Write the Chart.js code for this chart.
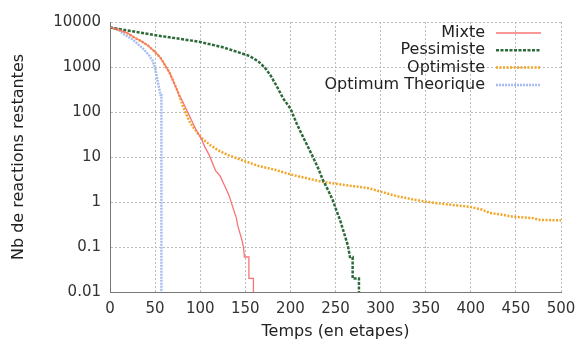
<!DOCTYPE html>
<html lang="fr">
<head>
<meta charset="UTF-8">
<title>Nb de reactions restantes</title>
<script src="https://cdn.jsdelivr.net/npm/chart.js"></script>
<style>
  body { margin: 0; background: #fff; overflow: hidden; }
  .wrap { width: 580px; height: 343px; }
</style>
</head>
<body>
<div class="wrap"><canvas id="chart"></canvas></div>
<script>
// 0 can't sit on a log axis: like gnuplot, the curve just falls off the bottom
const ZERO = 1e-4;

// values: [temps, nb de reactions restantes]
const mixte = [[0,7600],[10,6800],[20,5600],[28,4400],[35,3700],[42,3000],[50,2150],[56,1600],[61,1100],[66,750],[72,400],[76,250],[80,180],[85,110],[90,68],[95,42],[101,26],[105,17],[110,11],[117,5],[122,3.8],[128,2.1],[132,1.4],[136,0.78],[140,0.45],[142,0.28],[146,0.15],[148,0.1],[149,0.06],[154,0.06],[154,0.02],[159,0.02],[159,ZERO]];
const pessimiste = [[0,7600],[25,6200],[50,5100],[75,4300],[100,3600],[125,2750],[140,2200],[155,1750],[165,1300],[172,950],[178,650],[185,370],[192,200],[200,120],[207,55],[214,28],[220,16],[225,10],[231,5.5],[236,3.1],[242,1.8],[247,1.1],[251,0.65],[255,0.4],[259,0.22],[263,0.12],[264,0.1],[266,0.06],[269,0.06],[269,0.02],[276,0.02],[276,ZERO]];
const optimiste = [[0,7600],[10,6700],[20,5500],[28,4400],[35,3700],[42,3000],[50,2150],[56,1600],[61,1100],[66,750],[72,400],[76,260],[81,130],[85,85],[89,57],[97,34],[102,26],[111,18.5],[120,14],[131,11],[140,9.5],[150,8],[165,6.3],[183,5.2],[200,4.1],[220,3.3],[236,2.8],[260,2.4],[288,2.0],[300,1.7],[318,1.35],[335,1.15],[352,1.0],[375,0.88],[399,0.78],[412,0.68],[421,0.57],[435,0.52],[447,0.47],[460,0.45],[468,0.44],[477,0.4],[500,0.39]];
const optimum = [[0,7600],[10,6500],[17,5100],[25,4100],[32,3100],[38,2400],[43,1850],[47,1400],[50,950],[53,470],[55,300],[56,240],[57,240],[57,ZERO]];

const seriesNames = ['Mixte', 'Pessimiste', 'Optimiste', 'Optimum Theorique'];
const xTicks = [0, 50, 100, 150, 200, 250, 300, 350, 400, 450, 500];
const yTicks = [0.01, 0.1, 1, 10, 100, 1000, 10000];

const TICK_FONT = { family: 'DejaVu Sans', size: 15 };
const TITLE_FONT = { family: 'DejaVu Sans', size: 16 };

function toPoints(arr) { return arr.map(p => ({ x: p[0], y: p[1] })); }

// gnuplot style legend: right aligned text, line sample on the right
const keyPlugin = {
  id: 'key',
  afterDraw(chart) {
    const ctx = chart.ctx;
    const area = chart.chartArea;
    ctx.save();
    ctx.font = '16px "DejaVu Sans"';
    ctx.textAlign = 'right';
    ctx.textBaseline = 'middle';
    chart.data.datasets.forEach((ds, i) => {
      const y = area.top + 11 + i * 17.3;
      ctx.fillStyle = '#222';
      ctx.fillText(ds.label, area.right - 76, y);
      ctx.strokeStyle = ds.borderColor;
      ctx.lineWidth = ds.borderWidth;
      ctx.setLineDash(ds.borderDash || []);
      ctx.beginPath();
      ctx.moveTo(area.right - 65, y);
      ctx.lineTo(area.right - 20, y);
      ctx.stroke();
    });
    ctx.restore();
  }
};

const ctx = document.getElementById('chart').getContext('2d');
new Chart(ctx, {
  type: 'line',
  data: {
    datasets: [
      { label: seriesNames[0], data: toPoints(mixte), borderColor: '#f87474', borderWidth: 1.3 },
      { label: seriesNames[1], data: toPoints(pessimiste), borderColor: '#2c6a3a', borderWidth: 2.5, borderDash: [3, 1.5] },
      { label: seriesNames[2], data: toPoints(optimiste), borderColor: '#f2a526', borderWidth: 2.5, borderDash: [2, 1.5] },
      { label: seriesNames[3], data: toPoints(optimum), borderColor: '#a6bcf2', borderWidth: 2.5, borderDash: [2, 1] }
    ]
  },
  options: {
    responsive: true,
    maintainAspectRatio: false,
    animation: false,
    elements: { point: { radius: 0 }, line: { tension: 0 } },
    layout: { padding: { left: 0, right: 19, top: 22, bottom: 0 } },
    plugins: { legend: { display: false }, tooltip: { enabled: false } },
    scales: {
      x: {
        type: 'linear',
        min: 0, max: 500,
        afterBuildTicks: axis => { axis.ticks = xTicks.map(v => ({ value: v })); },
        afterFit: scale => { scale.height = 51; scale.paddingRight = 0; scale.paddingLeft = 0; },
        ticks: { font: TICK_FONT, color: '#333', padding: 8, maxRotation: 0 },
        grid: { color: '#bbb', borderDash: [2, 2], drawTicks: false },
        border: { color: '#777', dash: [2, 2] },
        title: { display: true, text: 'Temps (en etapes)', font: TITLE_FONT, color: '#222', padding: { top: 0, bottom: 2 } }
      },
      y: {
        type: 'logarithmic',
        min: 0.01, max: 10000,
        afterBuildTicks: axis => { axis.ticks = yTicks.map(v => ({ value: v })); },
        afterFit: scale => { scale.width = 110; scale.paddingTop = 0; scale.paddingBottom = 0; },
        ticks: { font: TICK_FONT, color: '#333', padding: 9, callback: v => String(v) },
        grid: { color: '#bbb', borderDash: [2, 2], drawTicks: false },
        border: { color: '#777', dash: [2, 2] },
        title: { display: true, text: 'Nb de reactions restantes', font: TITLE_FONT, color: '#222', padding: { top: 9, bottom: 0 } }
      }
    }
  },
  plugins: [keyPlugin]
});
</script>
</body>
</html>
